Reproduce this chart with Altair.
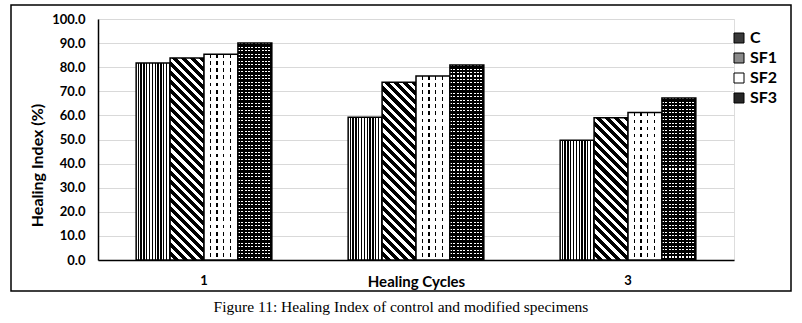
import math
import altair as alt
import pandas as pd

# ---- data ----
cycles = ["1", "2", "3"]
series = ["C", "SF1", "SF2", "SF3"]
C_vals = [81.7, 59.2, 49.7]
SF1_vals = [83.8, 73.8, 59.0]
SF2_vals = [85.4, 76.3, 61.2]
SF3_vals = [90.0, 80.9, 67.2]
legend_swatch = ["#3a3a3a", "#8a8a8a", "#ffffff", "#262626"]

values = {"C": C_vals, "SF1": SF1_vals, "SF2": SF2_vals, "SF3": SF3_vals}
rows = []
for s in series:
    for c, v in zip(cycles, values[s]):
        rows.append({"cycle": c, "series": s, "value": v})
df = pd.DataFrame(rows)

# ---- layout / style ----
W, H = 636, 241
PX_PER_UNIT = H / 100.0
BAR_W = W / 3 * 0.64 / 4
FONT = "Lato"
CLEAR = "rgba(0,0,0,0)"


def stripe_stops(n, dark_frac, dark, light):
    stops = []
    for i in range(n):
        a = i / n
        b = (i + 1 - dark_frac) / n
        e = (i + 1) / n
        stops += [
            {"offset": a, "color": light},
            {"offset": b, "color": light},
            {"offset": b, "color": dark},
            {"offset": e, "color": dark},
        ]
    return stops


def grad(x1, y1, x2, y2, stops):
    return {"gradient": "linear", "x1": x1, "y1": y1, "x2": x2, "y2": y2, "stops": stops}


def vertical_stripes(n, dark_frac, dark, light):
    return grad(0, 0, 1, 0, stripe_stops(n, dark_frac, dark, light))


def horizontal_stripes(h, period, dark_frac, dark, light):
    n = max(1, round(h / period))
    return grad(0, 0, 0, 1, stripe_stops(n, dark_frac, dark, light))


def diagonal_stripes(h, w, period, dark_frac, dark, light):
    r = h / w
    k = (1 + r) / (1 + r * r)
    L = (w + h) / math.sqrt(2)
    n = max(1, round(L / period))
    return grad(0, 1, k, 1 - k * r, stripe_stops(n, dark_frac, dark, light))


X = alt.X(
    "cycle:N",
    scale=alt.Scale(domain=cycles, paddingInner=0.36, paddingOuter=0.18),
    axis=alt.Axis(
        title="Healing Cycles",
        labelAngle=0,
        labelExpr="datum.value == '2' ? '' : datum.value",
        ticks=False,
        tickSize=0,
        labelPadding=14,
        labelFont=FONT,
        labelFontWeight="bold",
        labelFontSize=13,
        labelColor="black",
        domainColor="black",
        domainWidth=1.5,
        titleFont=FONT,
        titleFontWeight="bold",
        titleFontSize=15,
        titleColor="black",
        titleY=21,
        titleX=W / 2,
        titleBaseline="middle",
    ),
)
XO = alt.XOffset("series:N", scale=alt.Scale(domain=series, paddingInner=0, paddingOuter=0))
Y = alt.Y(
    "value:Q",
    scale=alt.Scale(domain=[0, 100], nice=False),
    axis=alt.Axis(
        title="Healing Index (%)",
        values=[0, 10, 20, 30, 40, 50, 60, 70, 80, 90, 100],
        format=".1f",
        ticks=False,
        tickSize=0,
        labelPadding=13,
        labelFont=FONT,
        labelFontWeight="bold",
        labelFontSize=13,
        labelColor="black",
        domainColor="black",
        domainWidth=1.5,
        gridColor="#d9d9d9",
        gridWidth=1,
        titleFont=FONT,
        titleFontWeight="bold",
        titleFontSize=16,
        titleColor="black",
        titleX=-61,
        titleY=146,
        titleAngle=270,
        titleAlign="center",
        titleBaseline="middle",
    ),
)

base = alt.Chart(df)
layers = []

# invisible layer that drives the legend
layers.append(
    base.mark_point(shape="square", filled=True, opacity=0).encode(
        x=X,
        y=Y,
        color=alt.Color(
            "series:N",
            scale=alt.Scale(domain=series, range=legend_swatch),
            legend=alt.Legend(
                title=None,
                orient="none",
                legendX=633,
                legendY=11,
                symbolType="square",
                symbolSize=100,
                symbolOpacity=1,
                symbolStrokeColor="black",
                symbolStrokeWidth=1,
                labelFont=FONT,
                labelFontWeight="bold",
                labelFontSize=16,
                labelColor="black",
                labelOffset=3,
                rowPadding=4,
            ),
        ),
    )
)


def bar(s, c, fill, stroke):
    return base.transform_filter(
        (alt.datum.series == s) & (alt.datum.cycle == c)
    ).mark_bar(
        fill=fill,
        stroke="black" if stroke else CLEAR,
        strokeWidth=1.5 if stroke else 0,
    ).encode(x=X, xOffset=XO, y=Y)


for c, v in zip(cycles, C_vals):
    layers.append(bar("C", c, vertical_stripes(12, 0.5, "black", "white"), True))

for c, v in zip(cycles, SF1_vals):
    h = v * PX_PER_UNIT
    layers.append(bar("SF1", c, diagonal_stripes(h, BAR_W, 6.5, 0.55, "black", "white"), True))

for c, v in zip(cycles, SF2_vals):
    h = v * PX_PER_UNIT
    layers.append(bar("SF2", c, vertical_stripes(5, 0.17, "black", "white"), False))
    layers.append(bar("SF2", c, horizontal_stripes(h, 7, 0.45, "white", CLEAR), True))

for c, v in zip(cycles, SF3_vals):
    h = v * PX_PER_UNIT
    layers.append(bar("SF3", c, horizontal_stripes(h, 3.5, 0.7, "black", "white"), False))
    layers.append(bar("SF3", c, vertical_stripes(10, 0.45, "black", CLEAR), True))

# outer frame around the figure
frame = alt.Chart(alt.Data(values=[{"f": 1}])).mark_rect(
    filled=False, stroke="black", strokeWidth=1.5
).encode(
    x=alt.value(-87), x2=alt.value(693), y=alt.value(-14), y2=alt.value(272)
)
layers.append(frame)

chart = alt.layer(*layers).properties(
    width=W,
    height=H,
    padding={"left": 10, "top": 4, "right": 10, "bottom": 5},
    title=alt.TitleParams(
        text="Figure 11: Healing Index of control and modified specimens",
        orient="bottom",
        font="Liberation Serif",
        fontSize=15.5,
        fontWeight="normal",
        color="black",
        offset=8,
        anchor="middle",
        frame="bounds",
    ),
).configure_view(stroke=None).configure(background="white")

chart.save("out.html", embed_options={"renderer": "svg", "actions": False})
